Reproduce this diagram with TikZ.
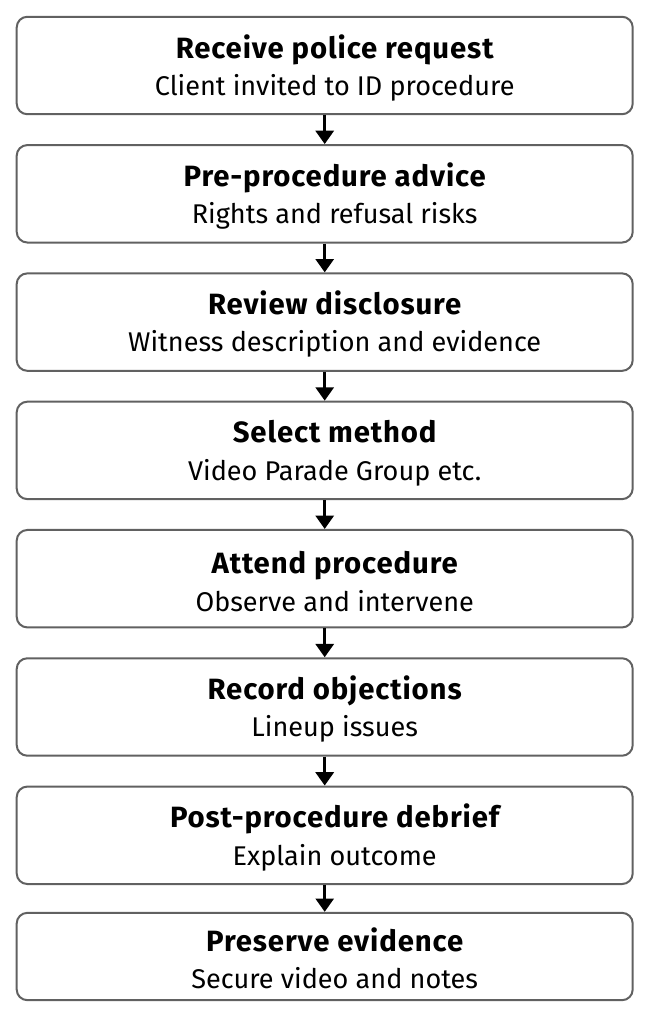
\documentclass[tikz,border=0pt]{standalone}
\usepackage{fontspec}
\setmainfont{Fira Sans}
\usetikzlibrary{arrows.meta}

% title and subtitle of one step, nudged a little to the right
\newcommand{\steplines}[2]{\rule{0pt}{21pt}\hspace*{15pt}{\fontsize{22}{27.9}\selectfont\bfseries\addfontfeatures{LetterSpace=3}#1}\\\hspace*{15pt}#2}

\begin{document}
\begin{tikzpicture}[x=0.75pt,y=-0.75pt]
\useasboundingbox (0,0) rectangle (651,1019);

\begin{scope}[every node/.style={rectangle,rounded corners=8pt,draw=black!62,line width=1.5pt,
	fill=white,minimum width=462pt,minimum height=73.1pt,align=center,
	font=\fontsize{20.3}{27.9}\selectfont}]
	\node (req) at (324.7,65.5) {\steplines{Receive police request}{Client invited to ID procedure}};
	\node (adv) at (324.7,193.8) {\steplines{Pre-procedure advice}{Rights and refusal risks}};
	\node (dis) at (324.7,322.1) {\steplines{Review disclosure}{Witness description and evidence}};
	\node (met) at (324.7,450.4) {\steplines{Select method}{Video Parade Group etc.}};
	\node (att) at (324.7,578.7) {\steplines{Attend procedure}{Observe and intervene}};
	\node (obj) at (324.7,707.0) {\steplines{Record objections}{Lineup issues}};
	\node (deb) at (324.7,835.3) {\steplines{Post-procedure debrief}{Explain outcome}};
	\node[minimum height=65.5pt] (pres) at (324.7,956.5) {\steplines{Preserve evidence}{Secure video and notes}};
\end{scope}

\begin{scope}[>={Triangle[black,length=10pt,width=13.5pt]},
every edge/.style={draw=black,line width=2.2pt}]
	\path [->] (req) edge (adv);
	\path [->] (adv) edge (dis);
	\path [->] (dis) edge (met);
	\path [->] (met) edge (att);
	\path [->] (att) edge (obj);
	\path [->] (obj) edge (deb);
	\path [->] (deb) edge (pres);
\end{scope}

\end{tikzpicture}
\end{document}
